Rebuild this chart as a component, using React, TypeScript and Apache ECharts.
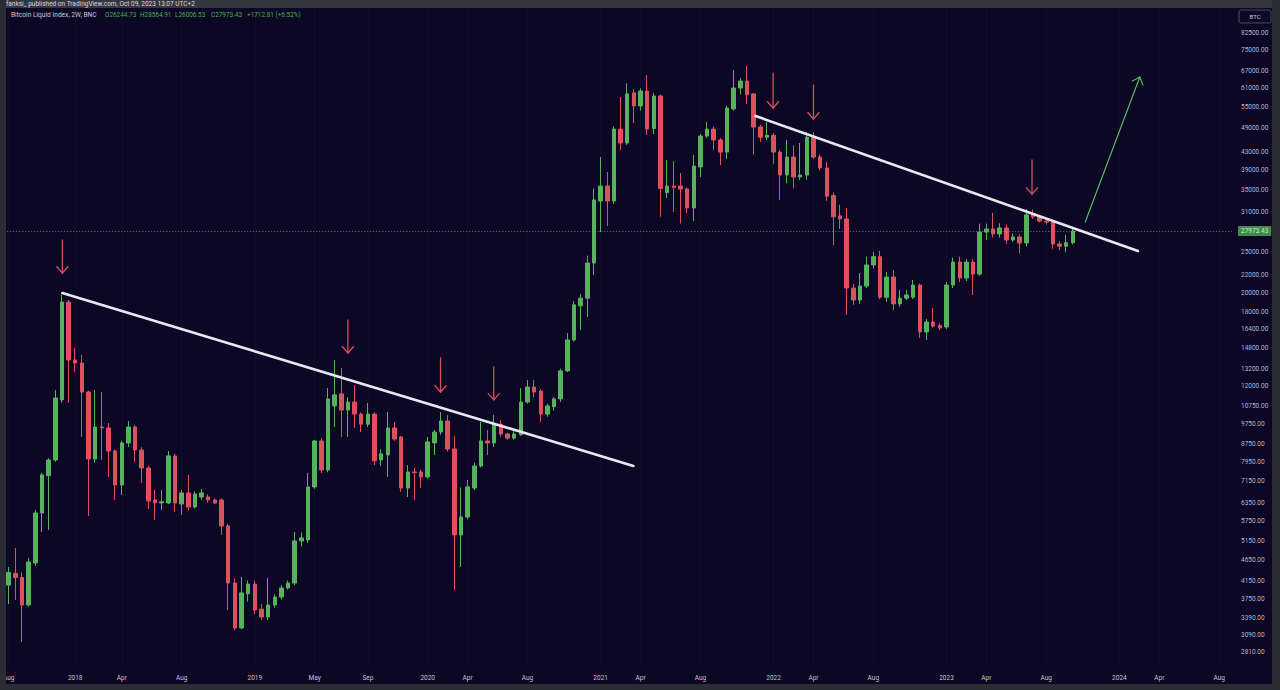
import React, { useEffect, useRef } from 'react';
import * as echarts from 'echarts';

const DAY = 86400000;
const ts = (s: string) => Date.parse(s + 'T00:00:00Z');

// ---- bars: 2W candles, first bar start date and step ----
const FIRST_BAR = '2017-08-14';
const BAR_DAYS = 14;

// [open, high, low, close]
const OHLC: [number, number, number, number][] = [
  [4050, 4467, 3650, 4341], [4317, 4959, 3734, 4222], [4222, 4341, 2968, 3632], [3632, 4700, 3600, 4594],
  [4570, 6102, 4500, 6003], [6003, 7470, 5415, 7391], [7360, 8100, 5471, 8018], [8018, 11750, 7940, 11250],
  [11130, 19740, 10950, 18990], [18990, 19200, 10950, 13840], [13840, 14800, 12970, 13610], [13610, 14230, 9093, 11620],
  [11620, 11700, 5905, 8062], [8062, 11750, 7900, 9600], [9600, 11620, 8018, 9550], [9550, 9810, 7308, 8421],
  [8421, 8500, 6445, 6995], [6995, 8900, 6625, 8800], [8800, 9920, 8600, 9600], [9600, 9700, 7940, 8468],
  [8470, 8600, 7070, 7675], [7675, 7760, 6136, 6410], [6445, 6807, 5778, 6340], [6340, 6807, 6102, 6380],
  [6340, 8420, 6300, 8196], [8196, 8300, 6036, 6340], [6305, 6800, 5940, 6697], [6697, 7391, 6100, 6202],
  [6202, 6750, 6150, 6660], [6550, 6850, 6450, 6697], [6550, 6650, 6350, 6445], [6445, 6500, 6300, 6340],
  [6445, 6500, 5324, 5592], [5592, 5650, 3535, 4096], [4096, 4200, 3170, 3205], [3205, 4233, 3180, 3880],
  [3860, 4150, 3700, 4072], [4072, 4150, 3450, 3535], [3550, 3650, 3350, 3402], [3402, 4209, 3347, 3632],
  [3632, 3850, 3580, 3794], [3794, 4050, 3750, 3986], [3986, 4150, 3950, 4096], [4096, 5415, 4050, 5153],
  [5153, 5400, 5000, 5237], [5181, 7470, 5100, 6921], [6921, 8950, 6850, 8895], [8895, 9034, 7470, 7592],
  [7592, 11875, 7500, 11190], [10770, 13840, 9600, 11440], [11500, 13250, 9093, 10530], [10530, 11300, 9093, 11000],
  [11000, 12050, 9550, 10300], [10300, 10400, 9340, 9750], [9750, 10950, 9600, 10300], [10300, 10400, 7800, 7980],
  [8018, 8500, 7760, 8290], [8240, 10420, 7308, 9550], [9550, 9870, 8900, 8990], [9090, 9150, 6735, 6880],
  [6880, 7800, 6550, 7510], [7510, 7680, 6445, 7480], [7510, 7600, 6880, 7308], [7308, 9093, 7250, 8850],
  [8800, 9450, 8240, 9340], [9340, 10420, 9200, 9920], [9920, 10250, 8400, 8514], [8514, 9150, 3943, 5324],
  [5324, 6900, 4470, 5873], [5873, 7189, 5800, 6921], [6880, 7900, 6800, 7760], [7760, 9870, 7700, 8895],
  [8895, 9445, 8240, 8800], [8800, 10250, 8600, 9750], [9750, 9975, 9100, 9240], [9240, 9300, 8950, 9034],
  [9034, 9400, 8950, 9240], [9200, 11870, 9150, 11000], [11000, 12410, 10900, 11940], [11940, 12400, 11300, 11620],
  [11680, 11800, 9870, 10300], [10300, 10900, 10150, 10770], [10720, 11300, 10500, 11190], [11190, 13200, 11000, 13040],
  [13040, 16030, 12950, 15440], [15440, 19100, 15300, 18700], [18600, 19850, 16310, 19400], [19400, 24480, 17500, 23500],
  [23500, 35320, 22000, 33150], [32970, 41920, 27830, 35780], [35780, 38630, 28750, 32970], [32970, 49500, 32500, 48830],
  [48830, 58190, 43550, 45250], [45250, 62700, 44800, 59170], [59500, 60760, 50470, 55420], [55420, 61000, 54000, 60100],
  [60100, 65600, 47300, 48830], [49000, 59500, 47500, 58500], [58500, 59000, 30250, 35320], [34500, 41240, 33480, 35780],
  [35780, 41000, 31050, 35500], [35780, 38420, 29150, 35200], [35200, 35500, 30900, 31740], [31740, 42400, 29560, 39900],
  [39700, 47500, 37600, 47000], [47000, 50780, 46500, 48830], [48830, 49500, 43550, 46000], [46000, 46500, 40100, 43070],
  [43070, 55500, 41500, 54800], [54500, 67400, 54000, 61100], [61100, 64500, 59000, 63480], [63480, 69000, 56000, 58900],
  [59170, 59500, 42500, 49380], [49380, 50000, 45500, 46700], [46700, 50780, 46000, 47200], [47200, 47800, 40300, 43070],
  [43070, 43500, 33150, 38000], [38000, 46000, 36350, 41920], [41920, 44700, 35320, 37580], [37580, 45250, 37000, 38000],
  [38000, 48000, 37000, 46700], [46950, 48000, 41500, 41920], [41920, 42500, 39000, 39500], [39500, 40800, 33000, 33840],
  [34000, 34500, 25900, 30250], [30400, 32300, 28300, 29900], [29900, 31740, 17700, 20500], [20500, 21000, 18700, 19200],
  [19200, 22250, 18800, 20720], [20720, 24330, 20500, 23250], [23250, 25000, 22800, 24330], [24330, 25100, 19300, 19500],
  [19500, 22400, 19000, 21770], [21770, 22600, 18200, 18800], [18800, 20280, 18500, 19400], [19400, 20300, 19200, 19740],
  [19500, 21420, 19300, 20840], [20840, 21000, 15610, 16130], [16130, 17300, 15440, 17030], [17030, 18380, 16500, 16650],
  [16700, 16900, 16300, 16490], [16570, 21200, 16400, 20840], [20840, 24200, 20500, 23630], [23630, 24330, 21200, 21650],
  [21650, 24000, 21300, 23630], [23630, 24000, 19740, 22120], [22120, 29150, 21900, 27830], [27830, 29150, 26650, 28300],
  [28300, 30900, 27000, 27550], [27550, 29200, 27000, 28460], [28460, 29000, 26100, 26650], [26650, 27600, 26400, 27100],
  [27100, 27500, 24780, 26220], [26220, 31550, 25700, 30580], [30750, 31500, 29900, 30250], [30250, 30500, 29300, 29560],
  [29560, 29800, 29000, 29400], [29400, 29600, 25400, 26070], [26070, 26500, 25200, 25760], [25760, 27400, 24900, 26260.62],
  [26244.73, 28564.91, 26006.53, 27973.43],
];

const LAST_PRICE = 27973.43;

// ---- axes ----
const X_MIN = '2017-08-11';
const X_MAX = '2024-09-01';
const Y_MIN = 2575;
const Y_MAX = 94580;

const X_TICKS: [string, string][] = [
  ['2017-08-14', 'Aug'], ['2018-01-01', '2018'], ['2018-04-09', 'Apr'], ['2018-08-13', 'Aug'],
  ['2019-01-14', '2019'], ['2019-05-20', 'May'], ['2019-09-09', 'Sep'], ['2020-01-13', '2020'],
  ['2020-04-06', 'Apr'], ['2020-08-10', 'Aug'], ['2021-01-11', '2021'], ['2021-04-05', 'Apr'],
  ['2021-08-09', 'Aug'], ['2022-01-10', '2022'], ['2022-04-04', 'Apr'], ['2022-08-08', 'Aug'],
  ['2023-01-09', '2023'], ['2023-04-03', 'Apr'], ['2023-08-07', 'Aug'], ['2024-01-08', '2024'],
  ['2024-04-01', 'Apr'], ['2024-08-05', 'Aug'],
];

const Y_TICKS = [
  82500, 75000, 67000, 61000, 55000, 49000, 43000, 39000, 35000, 31000, 25000, 22000, 20000, 18000,
  16400, 14800, 13200, 12000, 10750, 9750, 8750, 7950, 7150, 6350, 5750, 5150, 4650, 4150, 3750,
  3390, 3090, 2810,
];

// ---- drawings: [start date, start price, end date, end price] ----
const TREND_LINES: [string, number, string, number][] = [
  ['2017-12-05', 19950, '2021-03-21', 7760],
  ['2021-12-03', 52450, '2024-02-16', 25100],
];
const RED_ARROWS: [string, number, string, number][] = [
  ['2017-12-05', 26650, '2017-12-05', 22250],
  ['2019-07-29', 17220, '2019-07-29', 14380],
  ['2020-02-09', 13990, '2020-02-09', 11620],
  ['2020-05-31', 13330, '2020-05-31', 11130],
  ['2022-01-09', 66300, '2022-01-09', 54780],
  ['2022-04-04', 62130, '2022-04-04', 51600],
  ['2023-07-08', 41240, '2023-07-08', 34240],
];
const GREEN_ARROWS: [string, number, string, number][] = [
  ['2023-10-28', 29400, '2024-02-20', 64900],
];

const UP = '#56b35b';
const DOWN = '#e0505c';
const BG = '#0b0724';
const FRAME = '#2b2b33';
const FONT = 'Roboto, "Noto Sans", sans-serif';

function segRender(color: string, width: number, arrow: boolean) {
  return (_params: any, api: any) => {
    const a = api.coord([api.value(0), api.value(1)]);
    const b = api.coord([api.value(2), api.value(3)]);
    const children: any[] = [
      {
        type: 'line',
        shape: { x1: a[0], y1: a[1], x2: b[0], y2: b[1] },
        style: { stroke: color, lineWidth: width, lineCap: 'round' },
      },
    ];
    if (arrow) {
      const dx = b[0] - a[0];
      const dy = b[1] - a[1];
      const len = Math.hypot(dx, dy) || 1;
      const bx = -dx / len;
      const by = -dy / len;
      const L = 9;
      const ang = 0.72;
      const c = Math.cos(ang);
      const s = Math.sin(ang);
      const p1 = [b[0] + L * (bx * c - by * s), b[1] + L * (bx * s + by * c)];
      const p2 = [b[0] + L * (bx * c + by * s), b[1] + L * (-bx * s + by * c)];
      children.push({
        type: 'polyline',
        shape: { points: [p1, [b[0], b[1]], p2] },
        style: { stroke: color, lineWidth: width, fill: null, lineJoin: 'round' },
      });
    }
    return { type: 'group', children };
  };
}

const toSeg = (rows: [string, number, string, number][]) =>
  rows.map((r) => [ts(r[0]), r[1], ts(r[2]), r[3]]);

export default function App() {
  const ref = useRef<HTMLDivElement>(null);

  useEffect(() => {
    if (!ref.current) return;
    const chart = echarts.init(ref.current, undefined, { renderer: 'svg' });
    const t0 = ts(FIRST_BAR);
    const candles = OHLC.map((c, i) => [t0 + i * BAR_DAYS * DAY, c[0], c[3], c[2], c[1]]);
    const xTickVals = X_TICKS.map((t) => ts(t[0]));
    const yLogTicks = Y_TICKS.map((v) => Math.log10(v));

    const headerVals: [string, number][] = [
      ['O26244.73', 105],
      ['H28564.91', 140],
      ['L26006.53', 175],
      ['C27973.43', 211],
      ['+1712.81 (+6.52%)', 247],
    ];

    chart.setOption({
      animation: false,
      backgroundColor: BG,
      textStyle: { fontFamily: FONT },
      grid: { left: 6, right: 48, top: 8, bottom: 22 },
      xAxis: {
        type: 'value',
        min: ts(X_MIN),
        max: ts(X_MAX),
        axisLine: { show: false },
        axisTick: { show: false, customValues: xTickVals },
        splitLine: { show: true, lineStyle: { color: '#110c29', width: 1 } },
        axisLabel: {
          customValues: xTickVals,
          color: '#c4c4d0',
          fontSize: 6.5,
          margin: 6,
          fontFamily: FONT,
          formatter: (v: number) => {
            const hit = X_TICKS.find((t) => Math.abs(ts(t[0]) - v) < DAY);
            return hit ? hit[1] : '';
          },
        },
      },
      yAxis: [
        {
          type: 'log',
          logBase: 10,
          min: Y_MIN,
          max: Y_MAX,
          position: 'right',
          show: false,
          splitLine: { show: false },
        },
        {
          type: 'value',
          min: Math.log10(Y_MIN),
          max: Math.log10(Y_MAX),
          position: 'right',
          axisLine: { show: false },
          axisTick: { show: false },
          splitLine: { show: false },
          axisLabel: {
            customValues: yLogTicks,
            color: '#b8b8c8',
            fontSize: 6.5,
            margin: 9,
            align: 'left',
            fontFamily: FONT,
            formatter: (v: number) => {
              let best = Y_TICKS[0];
              let bd = Infinity;
              for (const t of Y_TICKS) {
                const dd = Math.abs(Math.log10(t) - v);
                if (dd < bd) {
                  bd = dd;
                  best = t;
                }
              }
              return best.toFixed(2);
            },
          },
        },
      ],
      series: [
        {
          type: 'candlestick',
          yAxisIndex: 0,
          data: candles,
          encode: { x: 0, y: [1, 2, 3, 4] },
          barWidth: 4,
          itemStyle: {
            color: UP,
            color0: DOWN,
            borderColor: UP,
            borderColor0: DOWN,
            borderWidth: 1,
          },
          markLine: {
            silent: true,
            symbol: 'none',
            data: [{ yAxis: LAST_PRICE }],
            lineStyle: { type: [1, 2], color: '#7da27d', width: 1, opacity: 0.8 },
            label: {
              show: true,
              position: 'end',
              distance: 6,
              formatter: LAST_PRICE.toFixed(2),
              backgroundColor: '#4caf50',
              color: '#eaffea',
              fontSize: 6.5,
              fontFamily: FONT,
              padding: [2, 3, 1, 3],
              borderRadius: 1,
            },
          },
          z: 2,
        },
        {
          type: 'custom',
          yAxisIndex: 0,
          data: toSeg(TREND_LINES),
          encode: { x: [0, 2], y: [1, 3] },
          renderItem: segRender('#e8e8f0', 2.6, false),
          silent: true,
          z: 5,
        },
        {
          type: 'custom',
          yAxisIndex: 0,
          data: toSeg(RED_ARROWS),
          encode: { x: [0, 2], y: [1, 3] },
          renderItem: segRender('#d6505a', 1.3, true),
          silent: true,
          z: 5,
        },
        {
          type: 'custom',
          yAxisIndex: 0,
          data: toSeg(GREEN_ARROWS),
          encode: { x: [0, 2], y: [1, 3] },
          renderItem: segRender('#5cb85c', 1.2, true),
          silent: true,
          z: 5,
        },
      ],
      graphic: [
        { type: 'rect', z: 100, silent: true, shape: { x: 0, y: 0, width: 1280, height: 8 }, style: { fill: '#36363e' } },
        { type: 'rect', z: 100, silent: true, shape: { x: 0, y: 0, width: 6, height: 690 }, style: { fill: FRAME } },
        { type: 'rect', z: 100, silent: true, shape: { x: 1272, y: 0, width: 8, height: 690 }, style: { fill: FRAME } },
        { type: 'rect', z: 100, silent: true, shape: { x: 0, y: 684, width: 1280, height: 6 }, style: { fill: FRAME } },
        {
          type: 'text', z: 101, silent: true, x: 6, y: 4,
          style: {
            text: 'fanksi_ published on TradingView.com, Oct 09, 2023 13:07 UTC+2',
            fill: '#d8d8de', fontSize: 6.5, fontFamily: FONT, verticalAlign: 'middle',
          },
        },
        {
          type: 'text', z: 101, silent: true, x: 11, y: 15,
          style: {
            text: 'Bitcoin Liquid Index, 2W, BNC',
            fill: '#c9c9d3', fontSize: 6.6, fontFamily: FONT, verticalAlign: 'middle',
          },
        },
        ...headerVals.map(([t, x]) => ({
          type: 'text', z: 101, silent: true, x, y: 15,
          style: { text: t, fill: '#4caf50', fontSize: 6.4, fontFamily: FONT, verticalAlign: 'middle' },
        })),
        {
          type: 'rect', z: 101, silent: true,
          shape: { x: 1239, y: 10, width: 32, height: 13, r: 2 },
          style: { fill: '#0e0a26', stroke: '#4a4a58', lineWidth: 1 },
        },
        {
          type: 'text', z: 102, silent: true, x: 1255, y: 16.5,
          style: {
            text: 'BTC', fill: '#c8c8d2', fontSize: 6, fontFamily: FONT,
            align: 'center', verticalAlign: 'middle',
          },
        },
      ],
    });

    return () => chart.dispose();
  }, []);

  return <div ref={ref} style={{ position: 'fixed', left: 0, top: 0, width: 1280, height: 690 }} />;
}
